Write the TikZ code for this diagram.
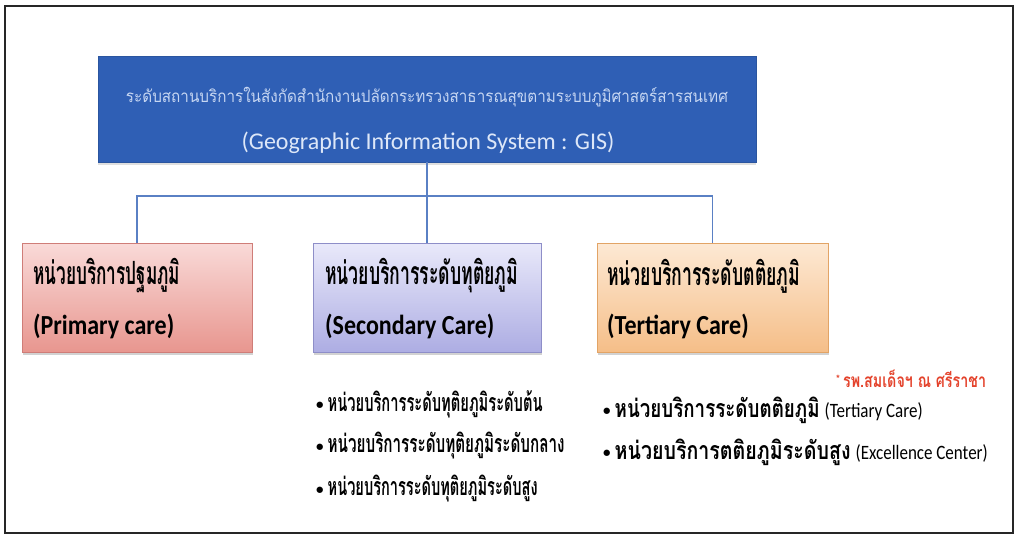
\documentclass[tikz,border=0pt]{standalone}
\usepackage{fontspec}
\usepackage{graphicx}
\setmainfont{Carlito}
\newfontfamily\thai[Script=Thai]{Loma}
\usetikzlibrary{shadows}

% colours
\definecolor{topblue}{HTML}{2F5FB5}
\definecolor{topedge}{HTML}{2A559F}
\definecolor{linkblue}{HTML}{5A80C4}
\definecolor{primtop}{HTML}{F9DAD8}
\definecolor{primbot}{HTML}{E8968F}
\definecolor{primedge}{HTML}{CF7D78}
\definecolor{sectop}{HTML}{E9E9FA}
\definecolor{secbot}{HTML}{ADADE3}
\definecolor{secedge}{HTML}{8E8EC8}
\definecolor{terttop}{HTML}{FDE9D4}
\definecolor{tertbot}{HTML}{F5BE88}
\definecolor{tertedge}{HTML}{E2A466}
\definecolor{thailight}{HTML}{C6D6F2}
\definecolor{englight}{HTML}{DDE7F8}
\definecolor{notered}{HTML}{E4432C}

% stretch or squeeze a text to a given width, keeping its height
\newcommand{\fitto}[2]{\resizebox{#1}{\height}{#2}}
% taller Latin text for the sub-level items
\newcommand{\tall}[1]{\scalebox{1}[1.2]{#1}}
% list bullet
\newcommand{\dotmark}{\raisebox{1.5pt}{\fontsize{15}{16}\selectfont\textbf{•}}}

\tikzset{
  link/.style={draw=linkblue, line width=1.4pt},
  frameline/.style={draw=black!85, line width=1.4pt},
  gisbox/.style={draw=topedge, line width=0.8pt, fill=topblue,
    minimum width=658pt, minimum height=106pt, inner sep=0pt,
    drop shadow={shadow xshift=0pt, shadow yshift=-2.5pt, opacity=0.25}},
  carebox/.style={draw=#1edge, line width=0.8pt, top color=#1top, bottom color=#1bot,
    minimum height=109pt, inner sep=0pt,
    drop shadow={shadow xshift=0.5pt, shadow yshift=-3pt, opacity=0.35}},
  thaititle/.style={anchor=west, inner sep=0pt, font=\thai\bfseries\fontsize{32}{36}\selectfont},
  engtitle/.style={anchor=west, inner sep=0pt, font=\bfseries\fontsize{24}{28}\selectfont},
  item/.style={anchor=west, inner sep=0pt, font=\fontsize{17}{20}\selectfont},
}

\newcommand{\thb}{\thai\bfseries\fontsize{25}{28}\selectfont}

\begin{document}
\begin{tikzpicture}[x=1pt, y=-1pt]
\useasboundingbox (0,0) rectangle (1015,536);
\fill[white] (0,0) rectangle (1015,536);
\draw[frameline] (5,6) rectangle (1013,533);

% top box
\node[gisbox] (gis) at (427,109) {};
\node[inner sep=0pt, text=thailight, font=\thai\fontsize{17}{20}\selectfont] (gisth) at (427,97)
  {\fitto{602pt}{ระดับสถานบริการในสังกัดสำนักงานปลัดกระทรวงสาธารณสุขตามระบบภูมิศาสตร์สารสนเทศ}};
\node[inner sep=0pt, text=englight, font=\fontsize{24}{28}\selectfont] (gisen) at (428,143)
  {(Geographic Information System : GIS)};

% three service levels
\node[carebox=prim, minimum width=230pt] (prim) at (137,297.5) {};
\node[carebox=sec,  minimum width=228pt] (sec)  at (427,297.5) {};
\node[carebox=tert, minimum width=231pt] (tert) at (712.5,297.5) {};

\node[thaititle] (primth) at (33,276)  {\fitto{147pt}{หน่วยบริการปฐมภูมิ}};
\node[engtitle]  (primen) at (33,326)  {\scalebox{1}[1.15]{(Primary care)}};
\node[thaititle] (secth)  at (325,276) {\fitto{193pt}{หน่วยบริการระดับทุติยภูมิ}};
\node[engtitle]  (secen)  at (325,326) {\scalebox{1}[1.15]{(Secondary Care)}};
\node[thaititle] (tertth) at (607,276) {\fitto{193pt}{หน่วยบริการระดับตติยภูมิ}};
\node[engtitle]  (terten) at (607,326) {\scalebox{1}[1.15]{(Tertiary Care)}};

% connectors
\coordinate (bus) at (427,196);
\draw[link] (gis.south) -- (sec.north);
\draw[link] (prim.north) |- (bus) -| (tert.north);

% secondary care sub-levels
\node[item] (s1) at (316,404) {\dotmark\hspace{4pt}{\thb\fitto{215pt}{หน่วยบริการระดับทุติยภูมิระดับต้น}}};
\node[item] (s2) at (316,446) {\dotmark\hspace{4pt}{\thb\fitto{237pt}{หน่วยบริการระดับทุติยภูมิระดับกลาง}}};
\node[item] (s3) at (316,489) {\dotmark\hspace{4pt}{\thb\fitto{210pt}{หน่วยบริการระดับทุติยภูมิระดับสูง}}};

% tertiary care sub-levels
\node[inner sep=0pt, anchor=west, text=notered, font=\thai\bfseries\fontsize{19}{22}\selectfont] (note) at (836,379)
  {\raisebox{5pt}{\fontsize{10}{11}\selectfont *}\hspace{3pt}\fitto{143pt}{รพ.สมเด็จฯ ณ ศรีราชา}};
\node[item] (t1) at (603,410) {\dotmark\hspace{4pt}{\thb\fitto{205pt}{หน่วยบริการระดับตติยภูมิ}}\hspace{5pt}\tall{(Tertiary Care)}};
\node[item] (t2) at (603,452) {\dotmark\hspace{4pt}{\thb\fitto{236pt}{หน่วยบริการตติยภูมิระดับสูง}}\hspace{5pt}\tall{(Excellence Center)}};
\end{tikzpicture}
\end{document}
